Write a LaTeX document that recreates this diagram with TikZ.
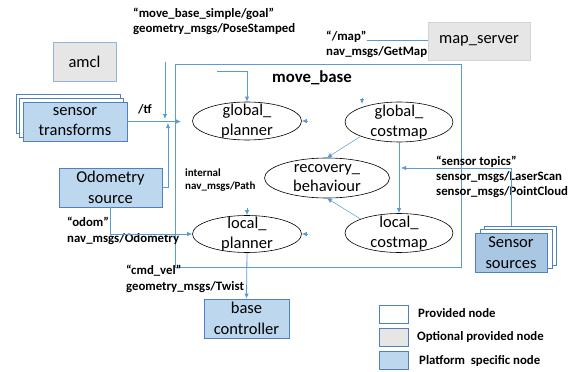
\documentclass[tikz,border=0pt]{standalone}
\usepackage{fontspec}
\setmainfont{Carlito}
\usetikzlibrary{arrows.meta,shapes.geometric,calc}
\definecolor{lnblue}{HTML}{5B9BD5}
\definecolor{bdblue}{HTML}{4F81BD}
\definecolor{fillblue}{HTML}{BDD7EE}
\definecolor{fillblue2}{HTML}{A9C6E3}
\definecolor{gfill}{HTML}{E7E6E6}
\definecolor{gborder}{HTML}{D4D4D4}
\begin{document}
\begin{tikzpicture}[x=1pt,y=-1pt,
  conn/.style={draw=lnblue,line width=0.8pt},
  arr/.style={conn,-{Latex[length=5pt,width=4.5pt]}},
  boxfont/.style={font=\fontsize{16.5}{20.5}\selectfont},
  platbox/.style={draw=bdblue,fill=fillblue,line width=0.8pt,inner sep=0pt,align=center,boxfont},
  backbox/.style={draw=bdblue,fill=white,line width=0.8pt,inner sep=0pt},
  optbox/.style={draw=gborder,fill=gfill,line width=0.8pt,inner sep=0pt,align=center,boxfont},
  ell/.style={ellipse,draw=black,fill=white,line width=0.6pt,inner sep=0pt},
  etext/.style={align=center,font=\fontsize{16.5}{19.5}\selectfont,inner sep=0pt},
  lbl/.style={anchor=base west,font=\fontsize{12.8}{15}\selectfont\bfseries,inner sep=0pt},
  slbl/.style={anchor=base west,font=\fontsize{11}{13}\selectfont\bfseries,inner sep=0pt},
  legbox/.style={draw=bdblue,line width=0.8pt,minimum width=29pt,minimum height=18pt,inner sep=0pt}
]
\useasboundingbox (0,0) rectangle (574,372);

% move_base frame
\node[draw=lnblue,line width=0.9pt,minimum width=286pt,minimum height=203pt,inner sep=0pt] (mb) at (318,165.5) {};
\node[anchor=base,font=\fontsize{16.8}{20}\selectfont\bfseries,inner sep=0pt] (mbt) at (312,82) {move\_base};

% optional nodes
\node[optbox,draw=bdblue!60,minimum width=63pt,minimum height=39pt] (amcl) at (84.5,61.5) {amcl};
\node[optbox,minimum width=102pt,minimum height=38pt] (ms) at (479,41) {map\_server};

% sensor transforms stack
\node[backbox,minimum width=104pt,minimum height=39pt] (st3) at (68,113.5) {};
\node[backbox,minimum width=104pt,minimum height=39pt] (st2) at (71.5,117.5) {};
\node[platbox,minimum width=104pt,minimum height=39pt] (st) at (75,121.5) {sensor\\transforms};

% odometry
\node[platbox,minimum width=103pt,minimum height=39pt] (odo) at (110.5,187.5) {Odometry\\source};

% base controller
\node[platbox,minimum width=85pt,minimum height=39pt] (bc) at (246.5,318.5) {base\\controller};

% sensor sources stack
\node[backbox,minimum width=72pt,minimum height=39pt] (ss3) at (520,245.5) {};
\node[backbox,minimum width=72pt,minimum height=39pt] (ss2) at (516,248.5) {};
\node[platbox,fill=fillblue2,minimum width=72pt,minimum height=39pt] (ss) at (511,252.5) {Sensor\\sources};

% ellipses
\node[ell,minimum width=109pt,minimum height=38pt] (gp) at (247,121) {};
\node[etext] (gpt) at (gp) {global\_\\planner};
\node[ell,minimum width=108pt,minimum height=40pt] (gc) at (399,122) {};
\node[etext] (gct) at (gc) {global\_\\costmap};
\node[ell,minimum width=125pt,minimum height=40pt] (rb) at (327,178) {};
\node[etext] (rbt) at (rb) {recovery\_\\behaviour};
\node[ell,minimum width=109pt,minimum height=37pt] (lp) at (247,234) {};
\node[etext] (lpt) at (lp) {local\_\\planner};
\node[ell,minimum width=108pt,minimum height=39pt] (lc) at (399,233) {};
\node[etext] (lct) at (lc) {local\_\\costmap};

% labels
\node[lbl] (goalA) at (133,17) {“move\_base\_simple/goal”};
\node[lbl] (goalB) at (133,32) {geometry\_msgs/PoseStamped};
\node[lbl] (mapA) at (326,40) {“/map”};
\node[lbl] (mapB) at (326,55) {nav\_msgs/GetMap};
\node[lbl] (tf) at (138,113) {/tf};
\node[slbl] (intA) at (185,176) {internal};
\node[slbl] (intB) at (185,189) {nav\_msgs/Path};
\node[lbl] (odomA) at (67,226) {“odom”};
\node[lbl] (odomB) at (67,242) {nav\_msgs/Odometry};
\node[lbl] (cmdA) at (126,274) {“cmd\_vel”};
\node[lbl] (cmdB) at (126,290) {geometry\_msgs/Twist};
\node[lbl] (sensA) at (436,165) {“sensor topics”};
\node[lbl] (sensB) at (436,180) {sensor\_msgs/LaserScan};
\node[lbl] (sensC) at (436,195) {sensor\_msgs/PointCloud};

% free connector ends
\coordinate (goaltop) at (165,62);
\coordinate (goalend) at (165,119);
\coordinate (tfin) at (181,121.5);
\coordinate (odoin) at (168,123);
\coordinate (inA) at (217,71);
\coordinate (sensin) at (401,168);
\coordinate (gcin) at (362,104);

% connectors
\draw[arr] (goaltop) -- (goalend);
\draw[arr] (st.east) -- (tfin);
\draw[arr] (odo.east) -| (odoin);
\draw[arr] (inA) -| (gp.north);
\draw[arr] ($(gcin)+(0,-6)$) -- (gcin);
\draw[arr] ($(gp.east)+(6,0)$) -- (gp.east);
\draw[arr] ($(lp.north)+(0,-7)$) -- (lp.north);
\draw[arr] ($(lp.east)+(6,0)$) -- (lp.east);
\draw[arr,line width=0.5pt] (gc.south west) -- (rb.north);
\draw[arr,line width=0.5pt] (lc.north west) -- (rb.south);
\draw[arr] (gc.south) -- (lc.north);
\draw[arr] (ss.north |- ss3.north) |- (sensin);
\draw[conn] (mapA.base east) -- (mapA.base east -| ms.west);
\draw[arr] (odo.south) |- (lp.west);
\draw[arr] (lp.south) -- (bc.north);

% legend
\node[legbox,fill=white] (lg1) at (393.5,314) {};
\node[legbox,fill=gfill] (lg2) at (393.5,337) {};
\node[legbox,fill=fillblue] (lg3) at (393.5,360) {};
\node[lbl] (lt1) at (418,317) {Provided node};
\node[lbl] (lt2) at (417,340) {Optional provided node};
\node[lbl] (lt3) at (419,364) {Platform\ \ specific node};
\end{tikzpicture}
\end{document}
